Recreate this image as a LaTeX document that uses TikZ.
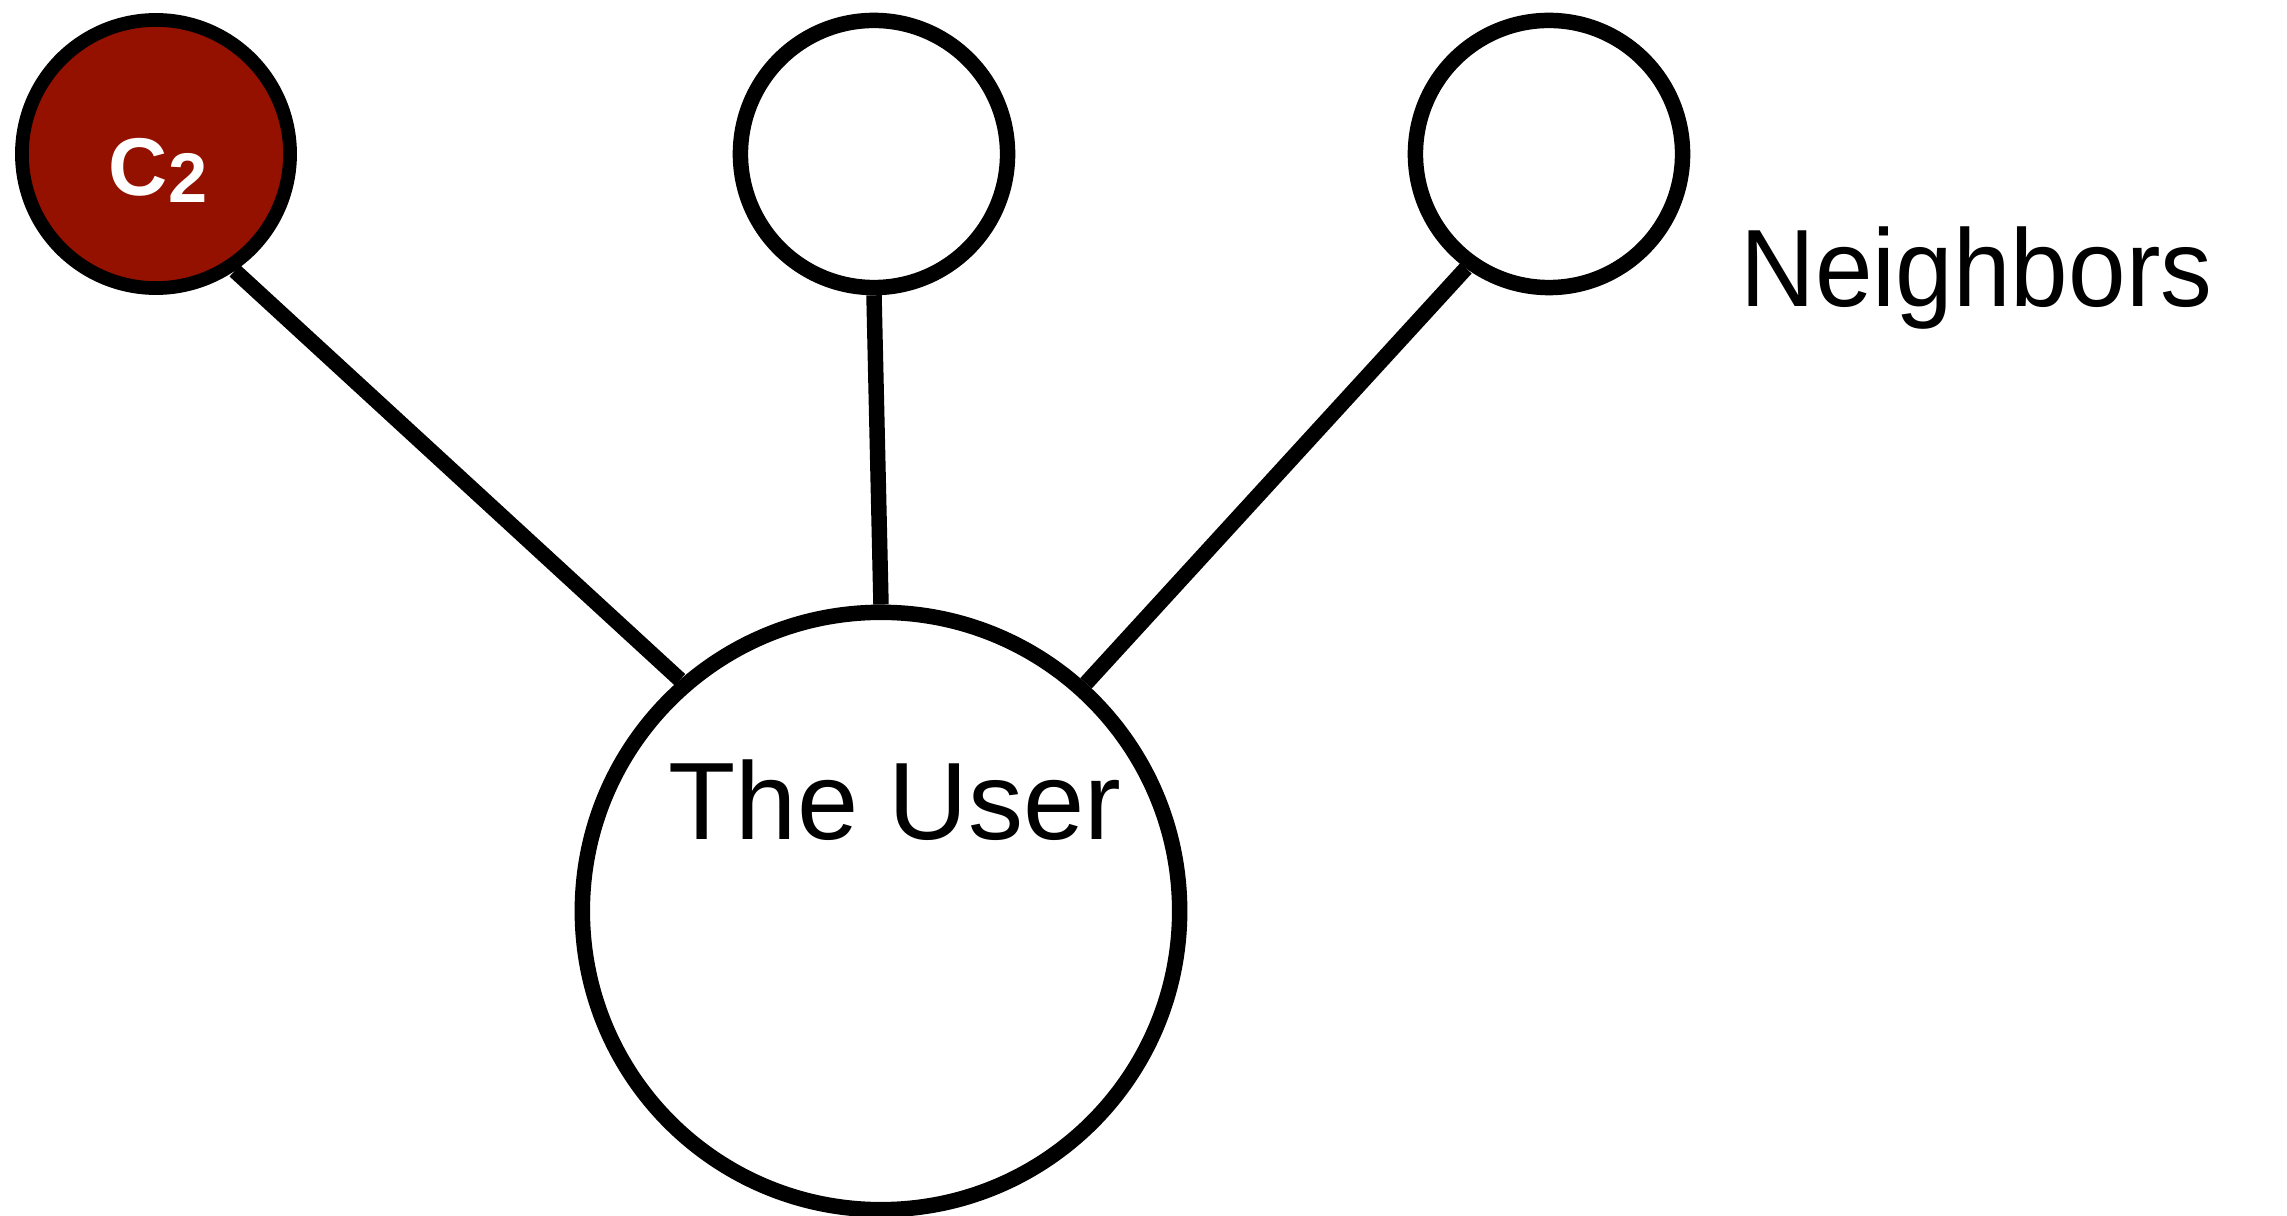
\documentclass[tikz,border=0pt]{standalone}
\usepackage{fontspec}
\setmainfont{Liberation Sans}
\definecolor{cayenne}{HTML}{941100}
\begin{document}
\begin{tikzpicture}[x=0.01cm,y=-0.01cm,
  peer/.style={circle, draw=black, fill=white, line width=4.4pt, minimum size=2.67cm, inner sep=0pt},
  link/.style={draw=black, line width=4.4pt},
  bigtext/.style={inner sep=0pt, font=\fontsize{31.3pt}{36pt}\selectfont}]
\useasboundingbox (0,0) rectangle (2287,1216);
\node[peer, fill=cayenne, line width=3.9pt, minimum size=2.68cm] (c2) at (156,154) {};
\node[peer] (mid) at (874,154) {};
\node[peer] (rt) at (1549,154) {};
\node[peer, minimum size=5.97cm] (user) at (881,911) {};
\node[inner sep=0pt, anchor=base, text=white, font=\fontsize{23.3pt}{26pt}\selectfont\bfseries] (c2t) at (158,196) {C\raisebox{-1.8pt}{\fontsize{20pt}{20pt}\selectfont 2}};
\node[bigtext, anchor=base] (ut) at (895,840) {The User};
\node[bigtext, anchor=base west] (nb) at (1740,307) {\scalebox{0.94}[1]{Neighbors}};
\draw[link] (c2.304.7) -- (user.131.6);
\draw[link] (mid.south) -- (user.north);
\draw[link] (rt.234.2) -- (user.48.4);
\end{tikzpicture}
\end{document}
